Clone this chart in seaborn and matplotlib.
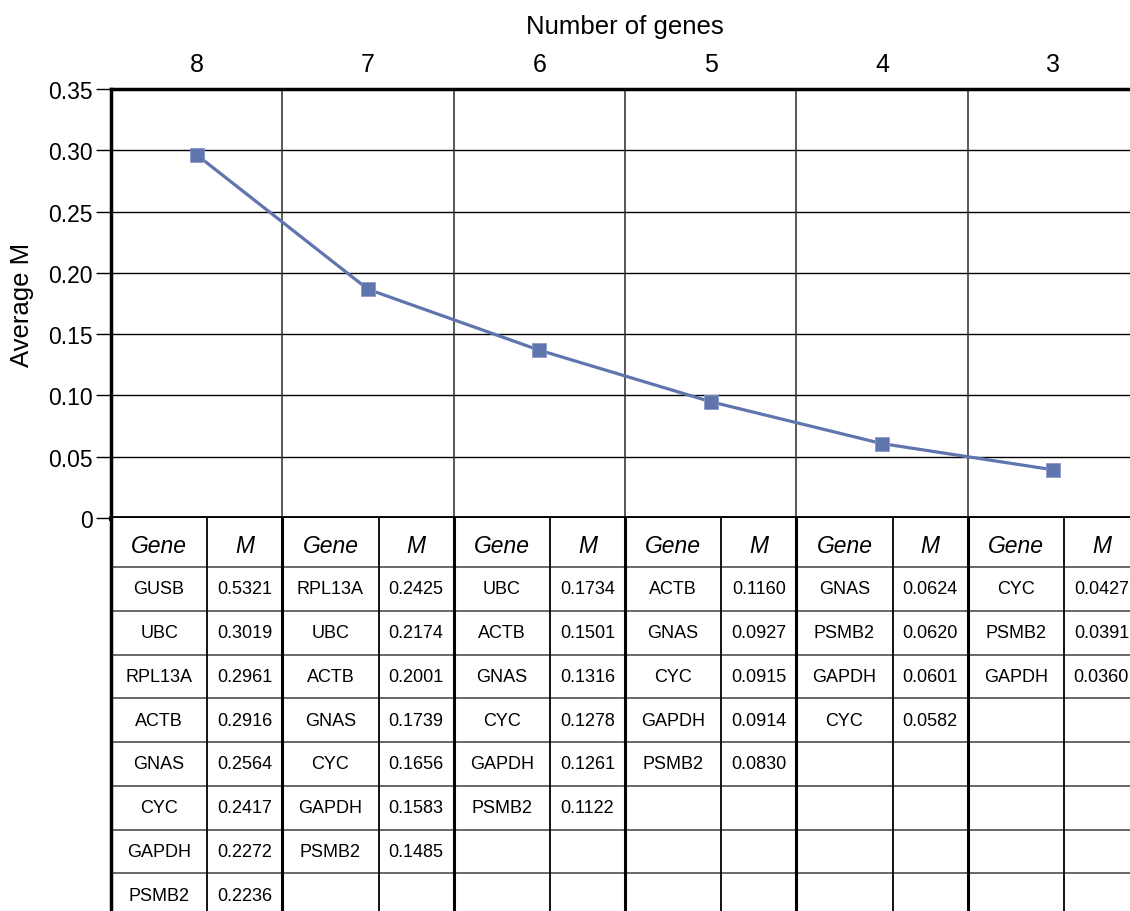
import numpy as np
import matplotlib
matplotlib.use("Agg")
import matplotlib.pyplot as plt
import seaborn as sns

# Gene stability (geNorm-style): average M for each number of remaining genes
gene_counts = [8, 7, 6, 5, 4, 3]
average_m = [0.2963, 0.1866, 0.1369, 0.0949, 0.0607, 0.0393]

# Per-step ranking tables (gene name and its M value)
genes_8 = ["GUSB", "UBC", "RPL13A", "ACTB", "GNAS", "CYC", "GAPDH", "PSMB2"]
m_8 = [0.5321, 0.3019, 0.2961, 0.2916, 0.2564, 0.2417, 0.2272, 0.2236]
genes_7 = ["RPL13A", "UBC", "ACTB", "GNAS", "CYC", "GAPDH", "PSMB2"]
m_7 = [0.2425, 0.2174, 0.2001, 0.1739, 0.1656, 0.1583, 0.1485]
genes_6 = ["UBC", "ACTB", "GNAS", "CYC", "GAPDH", "PSMB2"]
m_6 = [0.1734, 0.1501, 0.1316, 0.1278, 0.1261, 0.1122]
genes_5 = ["ACTB", "GNAS", "CYC", "GAPDH", "PSMB2"]
m_5 = [0.1160, 0.0927, 0.0915, 0.0914, 0.0830]
genes_4 = ["GNAS", "PSMB2", "GAPDH", "CYC"]
m_4 = [0.0624, 0.0620, 0.0601, 0.0582]
genes_3 = ["CYC", "PSMB2", "GAPDH"]
m_3 = [0.0427, 0.0391, 0.0360]

y_ticks = [0, 0.05, 0.10, 0.15, 0.20, 0.25, 0.30, 0.35]
y_tick_labels = ["0", "0.05", "0.10", "0.15", "0.20", "0.25", "0.30", "0.35"]

sns.set_style("white")
plt.rcParams["font.family"] = ["Liberation Sans", "DejaVu Sans"]
plt.rcParams["text.color"] = "black"
plt.rcParams["axes.labelcolor"] = "black"
plt.rcParams["xtick.color"] = "black"
plt.rcParams["ytick.color"] = "black"

W, H = 1130, 912
fig = plt.figure(figsize=(W / 100, H / 100), dpi=100)

left_px, right_px = 111, 1139
top_px, zero_px, table_bottom_px = 90, 519, 918

ax = fig.add_axes([left_px / W, 1 - zero_px / H,
                   (right_px - left_px) / W, (zero_px - top_px) / H])
tab = fig.add_axes([left_px / W, 1 - table_bottom_px / H,
                    (right_px - left_px) / W, (table_bottom_px - zero_px) / H])

n = len(gene_counts)
positions = np.arange(n)
line_color = "#6074AE"

# Grid: horizontal at each y tick, vertical at column boundaries
for yv in y_ticks[1:-1]:
    ax.axhline(yv, color="black", lw=1.0, zorder=1)
for b in range(1, n):
    ax.axvline(b - 0.5, color="#2a2a2a", lw=1.1, zorder=1)

sns.lineplot(x=positions, y=average_m, ax=ax, color=line_color, lw=2.3,
             marker="s", markersize=10, markeredgewidth=0.6,
             markeredgecolor="#8a9ac8", zorder=3)

ax.set_xlim(-0.5, n - 0.5)
ax.set_ylim(0, 0.35)
ax.set_xticks(positions)
ax.set_xticklabels([str(c) for c in gene_counts])
ax.xaxis.set_ticks_position("top")
ax.xaxis.set_label_position("top")
ax.set_xlabel("Number of genes", fontsize=18.5, labelpad=14)
ax.tick_params(axis="x", length=0, pad=9, labelsize=18)
ax.set_yticks(y_ticks)
ax.set_yticklabels(y_tick_labels)
ax.tick_params(axis="y", left=True, length=11, width=1.0, pad=2,
               labelsize=16.5, color="black")
ax.set_ylabel("Average M", fontsize=18.5, labelpad=10)
for side, lw in [("top", 2.5), ("left", 2.5), ("bottom", 3.5)]:
    ax.spines[side].set_visible(True)
    ax.spines[side].set_color("black")
    ax.spines[side].set_linewidth(lw)
ax.spines["right"].set_visible(False)

# Ranking table below the plot, one Gene/M column pair per step
groups_genes = [genes_8, genes_7, genes_6, genes_5, genes_4, genes_3]
groups_m = [m_8, m_7, m_6, m_5, m_4, m_3]

header_h = 49.0
row_h = 43.75
n_rows = 8
total_h = table_bottom_px - zero_px
tab.set_xlim(0, n)
tab.set_ylim(total_h, 0)
tab.set_xticks([])
tab.set_yticks([])
for side in ["top", "right", "bottom"]:
    tab.spines[side].set_visible(False)
tab.spines["left"].set_visible(True)
tab.spines["left"].set_color("black")
tab.spines["left"].set_linewidth(2.5)

split = 96.0 / 171.0
row_edges = [header_h + i * row_h for i in range(n_rows + 1)]
for yv in row_edges:
    tab.axhline(yv, color="#404040", lw=1.1, zorder=1)
for g in range(n):
    if g > 0:
        tab.axvline(g, color="black", lw=2.2, zorder=2)
    tab.axvline(g + split, color="black", lw=1.3, zorder=2)
    gx = g + split / 2
    mx = g + split + (1 - split) / 2
    tab.text(gx, header_h / 2 + 3, "Gene", style="italic", fontsize=16.5,
             ha="center", va="center")
    tab.text(mx, header_h / 2 + 3, "M", style="italic", fontsize=16.5,
             ha="center", va="center")
    for i, (gene, mv) in enumerate(zip(groups_genes[g], groups_m[g])):
        yc = header_h + (i + 0.5) * row_h
        tab.text(gx, yc, gene, fontsize=13, ha="center", va="center")
        tab.text(mx, yc, f"{mv:.4f}", fontsize=13, ha="center", va="center")

fig.savefig("out.png", dpi=100)
